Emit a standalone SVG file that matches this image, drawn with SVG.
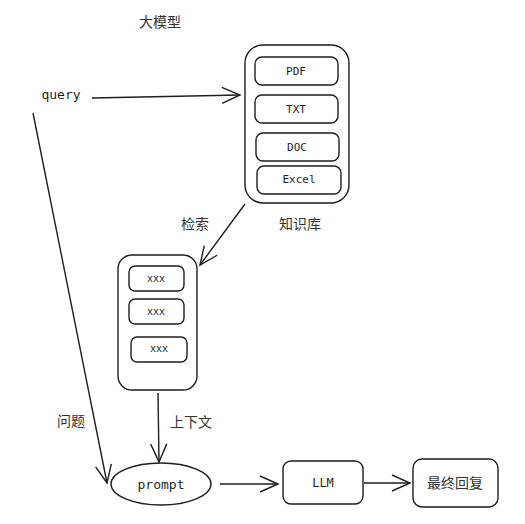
<svg xmlns="http://www.w3.org/2000/svg" width="525" height="524" viewBox="0 0 525 524">
<defs>
<style>
.box{fill:none;stroke:#1e1e1e;stroke-width:1.4}
.edge{fill:none;stroke:#1e1e1e;stroke-width:1.4}
.mono{font-family:"DejaVu Sans Mono","Liberation Mono",monospace;fill:#1e1e1e;text-anchor:middle}
.cjk{font-family:"Noto Sans CJK SC","Noto Sans",sans-serif;fill:#333;text-anchor:middle;font-size:14px}
</style>
<marker id="arr" markerUnits="userSpaceOnUse" markerWidth="22" markerHeight="20" viewBox="0 0 22 20" refX="20" refY="10" orient="auto">
<path d="M2,2 L20,10 L2,18" fill="none" stroke="#1e1e1e" stroke-width="1.4"/>
</marker>
</defs>
<rect width="525" height="524" fill="#ffffff"/>

<text class="cjk" x="160" y="27" font-size="15">大模型</text>

<g id="query"><text class="mono" x="61" y="99" font-size="13">query</text></g>

<g id="kb">
<rect class="box" x="245" y="45" width="104" height="158" rx="18"/>
<rect class="box" x="255" y="57" width="83" height="28" rx="7"/>
<text class="mono" x="296" y="75" font-size="11">PDF</text>
<rect class="box" x="255" y="95" width="83" height="28" rx="7"/>
<text class="mono" x="296" y="113" font-size="11">TXT</text>
<rect class="box" x="256" y="133" width="83" height="28" rx="7"/>
<text class="mono" x="297" y="151" font-size="11">DOC</text>
<rect class="box" x="257" y="166" width="84" height="28" rx="7"/>
<text class="mono" x="299" y="183" font-size="11">Excel</text>
</g>
<text class="cjk" x="300" y="229">知识库</text>

<g id="context">
<rect class="box" x="118" y="255" width="79" height="135" rx="14"/>
<rect class="box" x="129" y="266" width="55" height="25" rx="6"/>
<text class="mono" x="156" y="282" font-size="10">xxx</text>
<rect class="box" x="129" y="299" width="55" height="25" rx="6"/>
<text class="mono" x="156" y="315" font-size="10">xxx</text>
<rect class="box" x="131" y="337" width="56" height="25" rx="6"/>
<text class="mono" x="159" y="352" font-size="10">xxx</text>
</g>

<g id="prompt">
<ellipse class="box" cx="161" cy="484" rx="50" ry="21"/>
<text class="mono" x="161" y="489" font-size="13">prompt</text>
</g>

<g id="llm">
<rect class="box" x="283" y="461" width="80" height="43" rx="8"/>
<text class="mono" x="323" y="487" font-size="12">LLM</text>
</g>

<g id="answer">
<rect class="box" x="413" y="459" width="85" height="48" rx="9"/>
<text class="cjk" x="455" y="488" font-size="15" fill="#1e1e1e">最终回复</text>
</g>

<g id="connectors">
<path class="edge" d="M92,98 L240,95" marker-end="url(#arr)"/>
<path class="edge" d="M245,204 L200,265" marker-end="url(#arr)"/>
<path class="edge" d="M33,113 L107,483" marker-end="url(#arr)"/>
<path class="edge" d="M158,393 L159,462" marker-end="url(#arr)"/>
<path class="edge" d="M220,484 L278,484" marker-end="url(#arr)"/>
<path class="edge" d="M364,483 L410,483" marker-end="url(#arr)"/>
<text class="cjk" x="195" y="229">检索</text>
<text class="cjk" x="191" y="427">上下文</text>
<text class="cjk" x="71" y="426">问题</text>
</g>
</svg>
